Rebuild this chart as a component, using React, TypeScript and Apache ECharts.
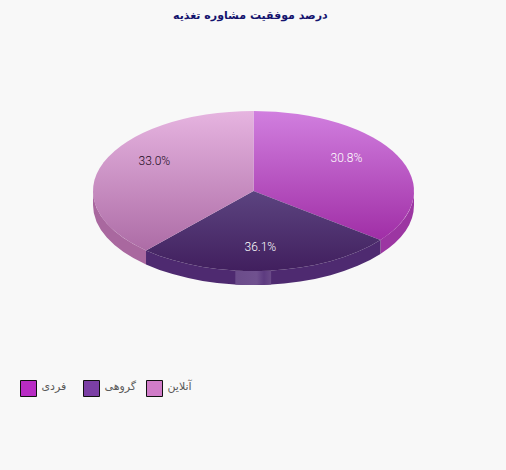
import React, { useEffect, useRef } from "react";
import * as echarts from "echarts";

const titleText = "درصد موفقیت مشاوره تغذیه";
const categories = ["فردی", "گروهی", "آنلاین"];
const shares = [30.8, 36.1, 33.0];
const legendColors = ["#b82cc4", "#7b3fa5", "#d07cc8"];
const topFrom = ["#d17fdf", "#5c4480", "#e6b4e0"];
const topTo = ["#a02ea6", "#411f5e", "#ad6ca6"];
const sideColors = ["#9c36a2", "#4e2a70", "#a9689f"];
const legendLefts = [15, 78, 141];

const CX = 253.5, CY = 191, RX = 160.5, RY = 80, DEPTH = 14;
const total = shares.reduce((a, b) => a + b, 0);
const rad = (d: number) => (d * Math.PI) / 180;
// the tilted disc compresses its front: screen angle as a function of data angle
const warp = (d: number) =>
  d + 7.05 * Math.sin(rad(d)) - 15.2 * Math.sin(rad(2 * d));
const pt = (deg: number, r = 1, dy = 0): [number, number] => [
  CX + RX * r * Math.sin(rad(deg)),
  CY - RY * r * Math.cos(rad(deg)) + dy,
];
const arcTo = (p: [number, number], large: number, sweep: number) =>
  `A ${RX} ${RY} 0 ${large} ${sweep} ${p[0]} ${p[1]}`;

const topPath = (a: number, b: number) => {
  const s = pt(a), e = pt(b);
  return `M ${CX} ${CY} L ${s[0]} ${s[1]} ${arcTo(e, b - a > 180 ? 1 : 0, 1)} Z`;
};
const sidePath = (a: number, b: number) => {
  const s = pt(a), e = pt(b), e2 = pt(b, 1, DEPTH), s2 = pt(a, 1, DEPTH);
  return `M ${s[0]} ${s[1]} ${arcTo(e, 0, 1)} L ${e2[0]} ${e2[1]} ${arcTo(s2, 0, 0)} Z`;
};

const vGrad = (from: string, to: string) => ({
  type: "linear", x: 0, y: 0, x2: 0, y2: 1,
  colorStops: [{ offset: 0, color: from }, { offset: 1, color: to }],
});

const makeRender = (index: number) => (_: any, api: any) => {
  const value = api.value(0) as number;
  const before = shares.slice(0, index).reduce((a, b) => a + b, 0);
  const a0 = (before / total) * 360;
  const a1 = ((before + value) / total) * 360;
  const sa = warp(a0);
  const sb = a1 >= 359.9 ? 360 : warp(a1);
  const children: any[] = [];
  const sideA = Math.max(sa, 90), sideB = Math.min(sb, 270);
  if (sideB > sideA) {
    children.push({
      type: "path",
      shape: { pathData: sidePath(sideA, sideB) },
      style: { fill: sideColors[index] },
    });
  }
  if (index === 1) {
    children.push({
      type: "path",
      shape: { pathData: sidePath(173.7, 186.5) },
      style: {
        fill: {
          type: "linear", x: 0, y: 0, x2: 1, y2: 0,
          colorStops: [
            { offset: 0, color: "#6b4c8a" },
            { offset: 0.6, color: "#70518f" },
            { offset: 0.8, color: "#5d3b80" },
            { offset: 1, color: "#6a4a88" },
          ],
        },
      },
    });
  }
  children.push({
    type: "path",
    shape: { pathData: topPath(sa, sb) },
    style: { fill: vGrad(topFrom[index], topTo[index]) },
  });
  const mid = pt((a0 + a1) / 2, 0.71);
  children.push({
    type: "text",
    x: mid[0] - 1,
    y: mid[1] - 1,
    style: {
      text: `${value.toFixed(1)}%`,
      fill: index === 2 ? "#1c0a22" : "#ffffff",
      font: "300 12px Roboto",
      align: "center",
      verticalAlign: "middle",
    },
  });
  return { type: "group", children };
};

export default function App() {
  const ref = useRef<HTMLDivElement>(null);
  useEffect(() => {
    document.body.style.margin = "0";
    document.body.style.background = "#f8f8f8";
    const chart = echarts.init(ref.current!, undefined, { renderer: "svg" });
    chart.setOption({
      animation: false,
      backgroundColor: "#f8f8f8",
      title: {
        text: titleText,
        left: 168,
        top: 5,
        textStyle: { fontFamily: "DejaVu Sans", fontSize: 11, fontWeight: "bold", color: "#14146e" },
      },
      legend: categories.map((name, i) => ({
        left: legendLefts[i],
        top: 375,
        icon: "rect",
        itemWidth: 16,
        itemHeight: 16,
        data: [name],
        itemStyle: { borderColor: "#111", borderWidth: 1 },
        formatter: (n: string) => `{a|${n}}`,
        textStyle: {
          rich: {
            a: { fontFamily: "DejaVu Sans", fontSize: 11, color: "#5a5a5a", padding: [0, 0, 5, 0] },
          },
        },
      })),
      series: categories.map((name, i) => ({
        type: "custom",
        name,
        coordinateSystem: "none",
        silent: true,
        itemStyle: { color: legendColors[i] },
        data: [[shares[i]]],
        renderItem: makeRender(i),
      })),
    });
    return () => chart.dispose();
  }, []);
  return <div ref={ref} style={{ width: 506, height: 470 }} />;
}
